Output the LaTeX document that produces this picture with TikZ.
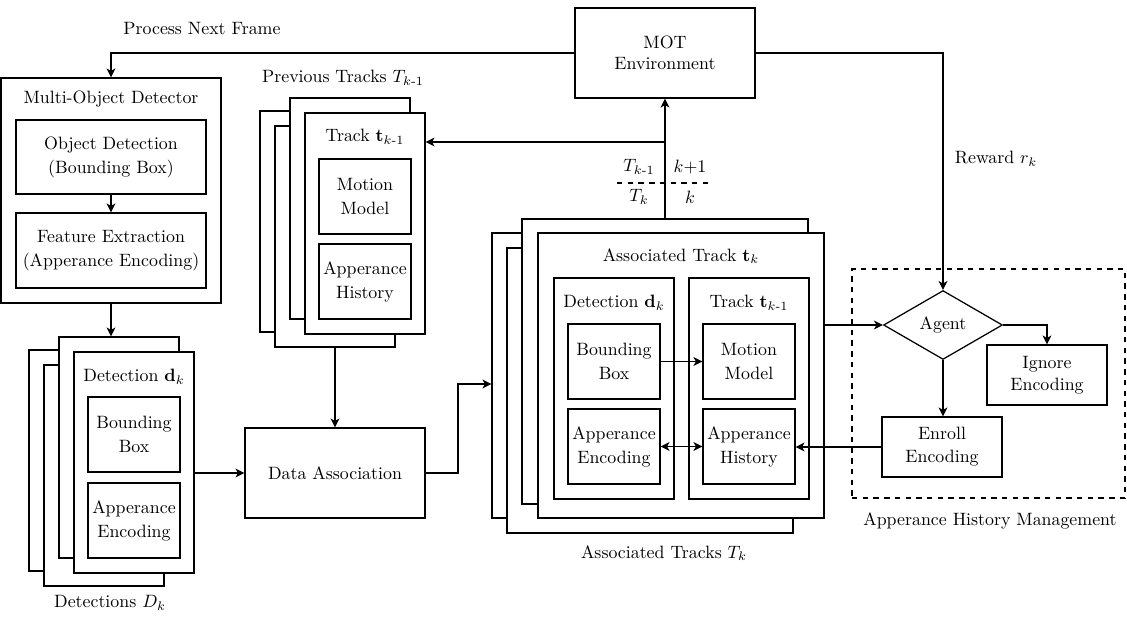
\documentclass[tikz,border=0pt]{standalone}
\usepackage{amsmath}
\usetikzlibrary{shapes.geometric,arrows.meta}
\newcommand{\bx}[7][]{\node[box,#1,minimum width={(#5-#3)*0.56pt},minimum height={(#6-#4)*0.56pt}] (#2) at ({(#3+#5)/2},{(#4+#6)/2}) {#7};}
\begin{document}
\begin{tikzpicture}[x=0.56pt,y=-0.56pt,
  box/.style={draw, fill=white, inner sep=0pt, align=center, line width=0.7pt,
              font=\fontsize{10pt}{13.4pt}\selectfont},
  arr/.style={-{Stealth[length=5pt,width=5pt,inset=1.4pt]}, line width=0.7pt},
  darr/.style={{Stealth[length=5pt,width=5pt,inset=1.4pt]}-{Stealth[length=5pt,width=5pt,inset=1.4pt]}, line width=0.7pt},
  ln/.style={line width=0.7pt},
  txt/.style={inner sep=1pt, align=center}]
\useasboundingbox (0,0) rectangle (1127,629);

% Multi-object detector
\bx{mod}{1}{78}{221}{303}{}
\node[txt] (modt) at (111,99) {Multi-Object Detector};
\bx{od}{16}{120}{206}{194}{Object Detection\\(Bounding Box)}
\bx{fe}{16}{213}{206}{288}{Feature Extraction\\(Apperance Encoding)}

% Detections stack
\bx{dA}{29}{350}{149}{571}{}
\bx{dB}{44}{365}{164}{586}{}
\bx{dC}{59}{337}{179}{558}{}
\bx{dD}{74}{352}{194}{573}{}
\node[txt] (dDt) at (134,377) {Detection $\mathbf{d}_k$};
\bx{dbb}{88}{397}{180}{472}{Bounding\\Box}
\bx{dae}{88}{483}{180}{558}{Apperance\\Encoding}
\node[txt] (dlab) at (110,603) {Detections $D_k$};

% Previous tracks stack
\node[txt] (plab) at (343,78) {Previous Tracks $T_{k\text{-}1}$};
\bx{pA}{260}{111}{380}{332}{}
\bx{pB}{275}{126}{395}{347}{}
\bx{pC}{290}{98}{410}{319}{}
\bx{pD}{305}{113}{425}{334}{}
\node[txt] (pDt) at (365,137) {Track $\mathbf{t}_{k\text{-}1}$};
\bx{pmm}{319}{159}{411}{234}{Motion\\Model}
\bx{pah}{319}{244}{411}{319}{Apperance\\History}

% Data association
\bx{da}{245}{428}{425}{518}{Data Association}

% MOT environment
\bx[font=\fontsize{10pt}{12pt}\selectfont]{mot}{575}{8}{755}{98}{MOT\\Environment}
\node[txt] (pnf) at (202,29) {Process Next Frame};

% Associated tracks stack
\bx{aA}{492}{233}{778}{518}{}
\bx{aB}{507}{248}{793}{533}{}
\bx{aC}{522}{219}{808}{504}{}
\bx{aD}{538}{233}{824}{518}{}
\node[txt] (aDt) at (681,256) {Associated Track $\mathbf{t}_k$};
\bx{adet}{554}{278}{674}{499}{}
\bx{atr}{689}{278}{809}{499}{}
\node[txt] (adett) at (614,303) {Detection $\mathbf{d}_k$};
\node[txt] (atrt) at (749,303) {Track $\mathbf{t}_{k\text{-}1}$};
\bx{abb}{568}{324}{660}{399}{Bounding\\Box}
\bx{amm}{703}{324}{795}{399}{Motion\\Model}
\bx{aae}{568}{409}{660}{484}{Apperance\\Encoding}
\bx{aah}{703}{409}{795}{484}{Apperance\\History}
\node[txt] (alab) at (664,553) {Associated Tracks $T_k$};

% Time step labels
\node[txt] (l1) at (639,167) {$T_{k\text{-}1}$};
\node[txt] (l2) at (690,167) {$k{+}1$};
\node[txt] (l3) at (639,197) {$T_k$};
\node[txt] (l4) at (690,197) {$k$};
\coordinate (dl1) at (617,183);
\coordinate (dl2) at (711,183);
\draw[ln, dashed] (dl1) -- (dl2);

% Appearance history management
\bx[dashed, fill=none]{ahm}{852}{269}{1125}{498}{}
\node[txt] (ahmt) at (990,521) {Apperance History Management};
\node[draw, diamond, line width=0.7pt, inner sep=0pt, aspect=1.72,
      minimum width=66.6pt, minimum height=38.6pt] (agent) at (943,325) {Agent};
\bx[font=\fontsize{10pt}{12.6pt}\selectfont]{ign}{987}{345}{1107}{405}{Ignore\\Encoding}
\bx[font=\fontsize{10pt}{13pt}\selectfont]{enr}{882}{417}{1002}{477}{Enroll\\Encoding}
\node[txt] (rew) at (996,159) {Reward $r_k$};

% Connectors
\draw[arr] (mot.west) -| (mod.north);
\draw[arr] (mot.east) -| (agent.north);
\draw[arr] (od.south) -- (fe.north);
\draw[arr] (mod.south) -- (mod.south |- dC.north);
\draw[arr] (pB.south) -- (da.north);
\draw[arr] (da.west -| dD.east) -- (da.west);
\coordinate (j1) at (458,384);
\draw[arr] (da.east) -| (j1) -- (j1 -| aA.west);
\draw[arr] (aC.north) -- (mot.south);
\coordinate (j2) at (665,142);
\draw[arr] (j2) -- (j2 -| pD.east);
\draw[arr] (abb.east) -- (amm.west);
\draw[darr] (aae.east) -- (aah.west);
\draw[arr] (enr.west) -- (enr.west -| aah.east);
\draw[arr] (agent.west -| aD.east) -- (agent.west);
\draw[arr] (agent.east) -| (ign.north);
\draw[arr] (agent.south) -- (agent.south |- enr.north);
\end{tikzpicture}
\end{document}
